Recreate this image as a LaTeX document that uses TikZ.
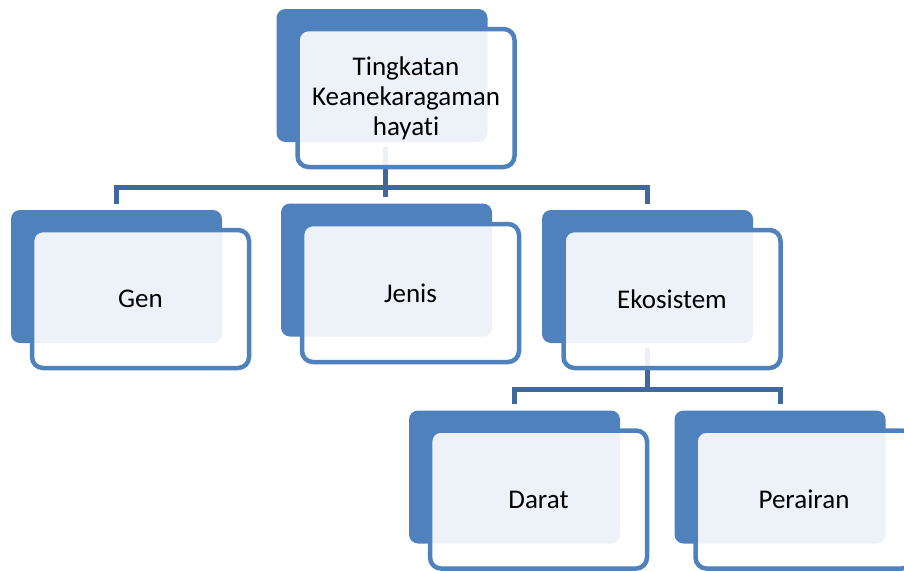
\documentclass[tikz,border=0pt]{standalone}
\usepackage{fontspec}
\setmainfont{Carlito}[Ligatures=NoCommon]
\definecolor{boxblue}{RGB}{79,129,189}
\definecolor{connblue}{RGB}{65,104,156}
\begin{document}
\begin{tikzpicture}[x=1pt,y=-1pt,
  backbox/.style={rectangle, rounded corners=9pt, fill=boxblue, inner sep=0pt,
    minimum width=211pt, minimum height=133pt},
  frontbox/.style={rectangle, rounded corners=11pt, draw=boxblue, line width=4.5pt,
    fill=white, fill opacity=0.9, text opacity=1, inner sep=0pt,
    minimum width=217pt, minimum height=138pt, align=center,
    font=\fontsize{27}{30}\selectfont},
  conn/.style={draw=connblue, line width=5pt}]
\useasboundingbox (0,0) rectangle (904,570);
\clip (0,0) rectangle (904,570);
% back boxes
\node[backbox] (tb) at (382,75.5) {};
\node[backbox] (gb) at (116.5,276.5) {};
\node[backbox] (jb) at (386.5,270) {};
\node[backbox] (eb) at (647.5,276.5) {};
\node[backbox] (db) at (514.5,477) {};
\node[backbox] (pb) at (780,477) {};
% connectors
\coordinate (bar1) at (0,187);
\coordinate (bar2) at (0,389);
\draw[conn] ([yshift=6pt]gb.north) |- (bar1 -| eb.north) -- ([yshift=6pt]eb.north);
\draw[conn] ([shift={(3pt,-5pt)}]tb.south) -- ([shift={(-1.5pt,6pt)}]jb.north);
\draw[conn] ([yshift=-5pt]eb.south) -- (bar2 -| eb.south);
\draw[conn] ([yshift=6pt]db.north) |- (bar2 -| pb.north) -- ([yshift=6pt]pb.north);
% front boxes
\node[frontbox] (tf) at (406,98) {Tingkatan\\Keanekaragaman\\hayati};
\node[frontbox] (gf) at (140.5,299) {Gen};
\node[frontbox] (jf) at (410.5,293) {Jenis};
\node[frontbox] (ef) at (672,299) {Ekosistem};
\node[frontbox] (df) at (538.5,499.5) {Darat};
\node[frontbox] (pf) at (804,499.5) {Perairan};
\end{tikzpicture}
\end{document}
